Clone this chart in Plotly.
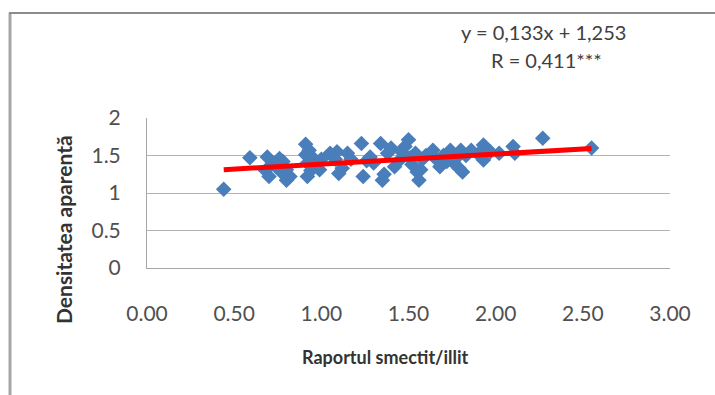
import plotly.graph_objects as go

# ---- data ----
ratio = [0.44, 0.59, 0.68, 0.69, 0.70, 0.72, 0.74, 0.76, 0.77, 0.78, 0.80, 0.80, 0.82,
         0.91, 0.91, 0.92, 0.92, 0.93, 0.94, 0.96, 0.99, 1.00, 1.05, 1.08, 1.09, 1.10,
         1.12, 1.15, 1.17, 1.23, 1.24, 1.26, 1.28, 1.30, 1.34, 1.35, 1.36, 1.38, 1.40,
         1.42, 1.45, 1.46, 1.48, 1.50, 1.51, 1.52, 1.54, 1.55, 1.56, 1.57, 1.58, 1.60,
         1.64, 1.66, 1.68, 1.70, 1.72, 1.74, 1.76, 1.78, 1.79, 1.80, 1.81, 1.83, 1.86,
         1.90, 1.93, 1.93, 1.97, 2.02, 2.10, 2.11, 2.27, 2.55]
density = [1.05, 1.47, 1.30, 1.48, 1.22, 1.40, 1.35, 1.46, 1.28, 1.42, 1.17, 1.31, 1.22,
           1.65, 1.51, 1.40, 1.22, 1.57, 1.30, 1.45, 1.31, 1.45, 1.53, 1.45, 1.55, 1.26,
           1.33, 1.53, 1.45, 1.66, 1.22, 1.43, 1.48, 1.40, 1.66, 1.17, 1.25, 1.53, 1.60,
           1.35, 1.44, 1.55, 1.62, 1.71, 1.47, 1.38, 1.53, 1.28, 1.17, 1.31, 1.45, 1.50,
           1.57, 1.45, 1.35, 1.50, 1.42, 1.57, 1.40, 1.48, 1.33, 1.57, 1.28, 1.50, 1.57,
           1.52, 1.64, 1.44, 1.55, 1.53, 1.62, 1.53, 1.73, 1.60]
slope, intercept = 0.133, 1.253
x_ticks = [0.0, 0.5, 1.0, 1.5, 2.0, 2.5, 3.0]
y_ticks = [0, 0.5, 1, 1.5, 2]
eq_text = "y = 0,133x + 1,253"
r_text = "R = 0,411***"
x_title = "Raportul smectit/illit"
y_title = "Densitatea aparentă"

W, H = 715, 395
L, R, T, B = 147, 45, 118, 127
PW, PH = W - L - R, H - T - B

def px(xp):
    return (xp - L) / PW

def py(yp):
    return (H - B - yp) / PH

trend_x = [min(ratio), max(ratio)]
trend_y = [slope * v + intercept for v in trend_x]

FONT = "Lato"
fig = go.Figure()
fig.add_trace(go.Scatter(x=ratio, y=density, mode="markers",
                         marker=dict(symbol="diamond", size=12, color="#4a7ebb",
                                     line=dict(width=0)),
                         showlegend=False))
fig.add_trace(go.Scatter(x=trend_x, y=trend_y, mode="lines",
                         line=dict(color="#ff0000", width=5),
                         showlegend=False))

fig.update_layout(
    width=W, height=H,
    margin=dict(l=L, r=R, t=T, b=B),
    paper_bgcolor="white", plot_bgcolor="white",
    font=dict(family=FONT, color="#404040"),
    xaxis=dict(range=[0, 3], tickvals=x_ticks, tickformat=".2f", showgrid=False,
               zeroline=False, showline=True, linecolor="#a6a6a6", linewidth=1,
               ticks="", tickfont=dict(size=21, color="#505050", family=FONT),
               ticklabelstandoff=27, fixedrange=True),
    yaxis=dict(range=[0, 2], tickvals=y_ticks, showgrid=True, gridcolor="#b3b3b3",
               gridwidth=1, zeroline=False, showline=True, linecolor="#a6a6a6",
               linewidth=1, ticks="", tickfont=dict(size=21, color="#505050", family=FONT),
               ticklabelstandoff=21, fixedrange=True),
    annotations=[
        dict(text=eq_text, x=px(543), y=py(32), xref="paper", yref="paper",
             showarrow=False, font=dict(size=20, color="#404040", family=FONT),
             xanchor="center", yanchor="middle"),
        dict(text=r_text, x=px(546), y=py(60), xref="paper", yref="paper",
             showarrow=False, font=dict(size=20, color="#404040", family=FONT),
             xanchor="center", yanchor="middle"),
        dict(text="<b>" + x_title + "</b>", x=px(385), y=py(357), xref="paper",
             yref="paper", showarrow=False,
             font=dict(size=18, color="#333333", family=FONT),
             xanchor="center", yanchor="middle"),
        dict(text="<b>" + y_title + "</b>", x=px(63), y=py(230), xref="paper",
             yref="paper", showarrow=False, textangle=-90,
             font=dict(size=21, color="#333333", family=FONT),
             xanchor="center", yanchor="middle"),
    ],
    shapes=[
        dict(type="line", xref="paper", yref="paper", x0=px(10), x1=px(10),
             y0=py(13), y1=py(H + 5), line=dict(color="#a6a6a6", width=3)),
        dict(type="line", xref="paper", yref="paper", x0=px(9), x1=px(W + 5),
             y0=py(13), y1=py(13), line=dict(color="#8c8c8c", width=2)),
    ],
)

fig.write_html("out.html")
